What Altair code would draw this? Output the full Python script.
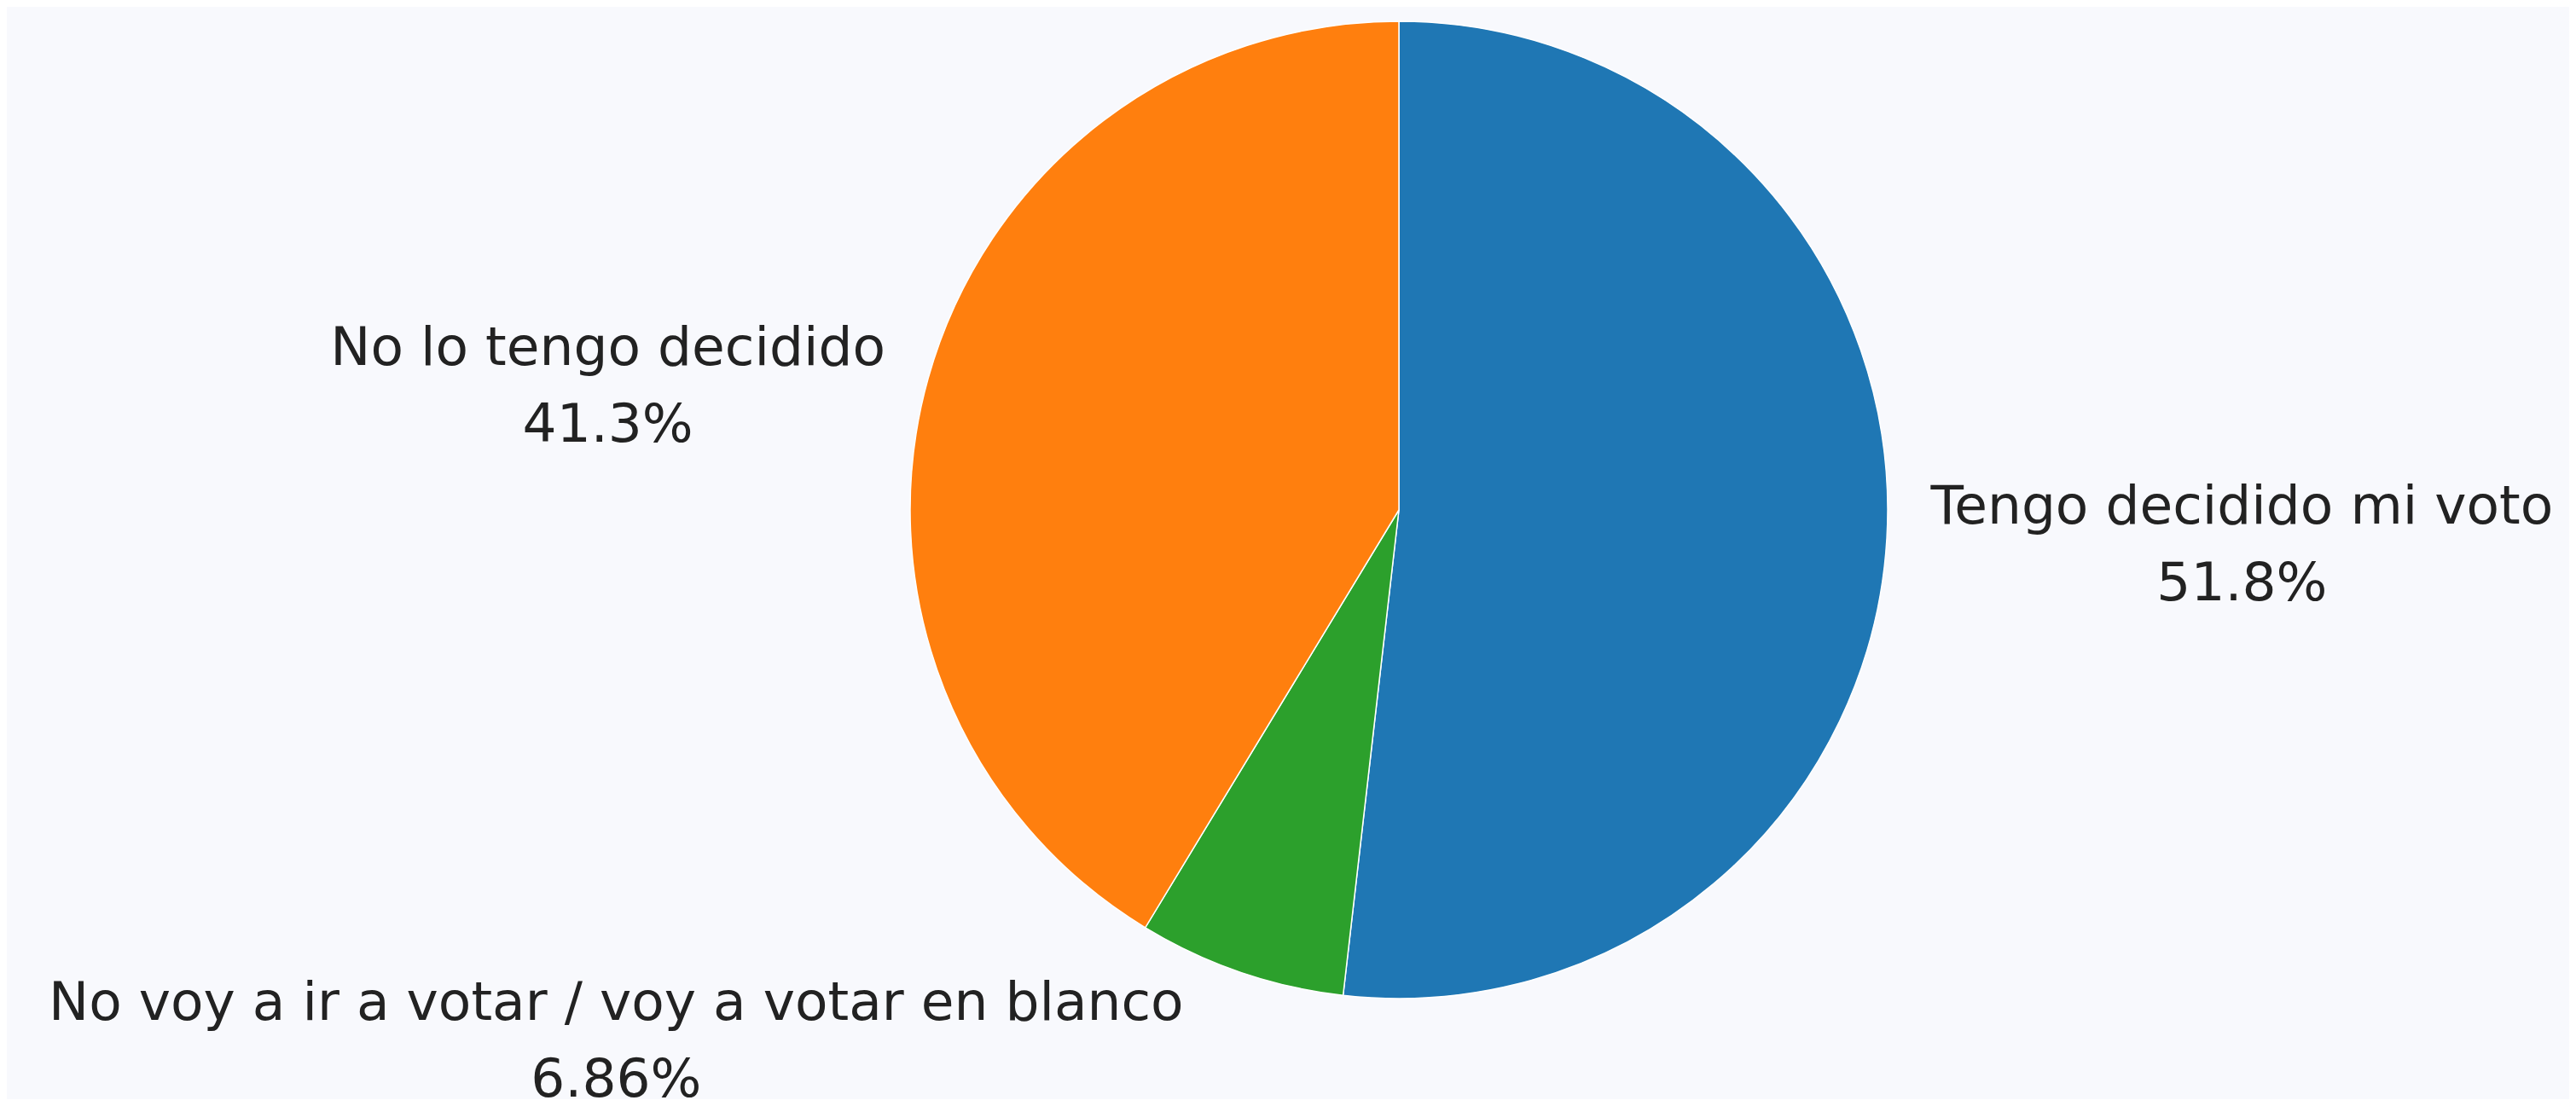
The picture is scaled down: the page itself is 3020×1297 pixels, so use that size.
import altair as alt
import pandas as pd

categories = [
    "Tengo decidido mi voto",
    "No voy a ir a votar / voy a votar en blanco",
    "No lo tengo decidido",
]
values = [51.8, 6.86, 41.3]
colors = ["#1f77b4", "#2ca02c", "#ff7f0e"]
sides = ["right", "bottom", "left"]

df = pd.DataFrame({
    "cat": categories,
    "value": values,
    "order": list(range(len(categories))),
    "side": sides,
})
total = sum(values)

CX, CY, R = 1632, 590, 573

base = alt.Chart(df).transform_window(
    end="sum(value)", sort=[alt.SortField("order")], frame=[None, 0]
).transform_calculate(
    start="datum.end - datum.value",
    mid="datum.end - datum.value / 2",
    label="datum.cat + '\\n' + format(datum.value / %f, '.3p')" % total,
)

theta_scale = alt.Scale(domain=[0, total])

arc = base.mark_arc(stroke="white", strokeWidth=1.5, radius=R).encode(
    theta=alt.Theta("start:Q", scale=theta_scale),
    theta2="end:Q",
    color=alt.Color("cat:N", scale=alt.Scale(domain=categories, range=colors), legend=None),
    x=alt.value(CX),
    y=alt.value(CY),
)


def labels(side, rad, dx=0, dy=0):
    return base.transform_filter(alt.datum.side == side).mark_text(
        align="center",
        baseline="middle",
        lineBreak="\n",
        font="DejaVu Sans",
        fontSize=63,
        lineHeight=90,
        color="#222222",
        dx=dx,
        dy=dy,
    ).encode(
        theta=alt.Theta("mid:Q", scale=theta_scale),
        radius=alt.value(rad),
        x=alt.value(CX),
        y=alt.value(CY),
        text="label:N",
    )


chart = alt.layer(
    arc,
    labels("right", 990, dy=-60),
    labels("left", 963, dy=70),
    labels("bottom", 610, dx=-720, dy=2),
).properties(
    width=3004, height=1281, padding=0, autosize=alt.AutoSizeParams(type="none"),
    background="#f8f9fd",
).configure_view(stroke=None)

chart.save("out.html", embed_options={"renderer": "svg", "actions": False})
